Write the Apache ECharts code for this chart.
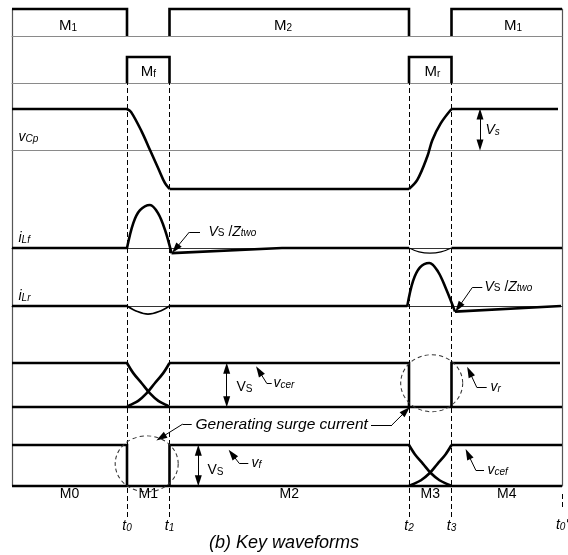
<!DOCTYPE html>
<html>
<head>
<meta charset="utf-8">
<script src="https://cdn.jsdelivr.net/npm/echarts@6/dist/echarts.min.js"></script>
<style>
html, body { margin: 0; padding: 0; background: #fff; }
#chart { width: 568px; height: 555px; }
</style>
</head>
<body>
<div id="chart"></div>
<script>
// switching instants t0..t3 and end of period t0'
const tEdges = [11.5, 15.75, 39.7, 43.95];
const tEnd = 55;
const [t0, t1, t2, t3] = tEdges;

// gate signals, 1 = on
const gateM12 = [[[0, 1], [t0, 1], [t0, 0]], [[t1, 0], [t1, 1], [t2, 1], [t2, 0]], [[t3, 0], [t3, 1], [tEnd, 1]]];
const gateMfr = [[[t0, 0], [t0, 1], [t1, 1], [t1, 0]], [[t2, 0], [t2, 1], [t3, 1], [t3, 0]]];

// vCp in units of Vs
const vCpFlat = [[[0, 1], [t0, 1]], [[t1, -0.95], [t2, -0.95]], [[t3, 1], [54.6, 1]]];
const vCpFall = [[t0, 1], [11.9, 0.93], [12.97, 0.45], [13.8, 0], [14.63, -0.45], [15.3, -0.81], [t1, -0.95]];
const vCpRise = [[t2, -0.95], [40.53, -0.73], [41.53, -0.16], [42.03, 0.24], [42.87, 0.65], [t3, 1]];

// iLf / iLr (peak = 1)
const iLfFlat = [[[0, 0], [t0, 0]], [[15.95, -0.12], [27, 0], [t2, 0]], [[t3, 0], [tEnd, 0]]];
const iLfPulse = [[t0, 0], [12.13, 0.58], [12.8, 0.88], [13.8, 1], [14.6, 0.81], [15.3, 0.42], [15.95, -0.12]];
const iLfDip = [[t2, 0], [40.7, -0.09], [41.8, -0.12], [42.9, -0.09], [t3, 0]];
const iLrFlat = [[[0, 0], [t0, 0]], [[t1, 0], [39.53, 0]], [[44.3, -0.13], [54.9, 0]]];
const iLrDip = [[t0, 0], [12.55, -0.13], [13.6, -0.19], [14.7, -0.13], [t1, 0]];
const iLrPulse = [[39.53, 0], [40.1, 0.58], [40.8, 0.9], [41.73, 1], [42.6, 0.8], [43.4, 0.4], [44.3, -0.13]];

// vcer / vr
const vcerOn = [[0, 1], [t0, 1]];
const vcerFall = [[t0, 1], [12.13, 0.77], [12.97, 0.54], [13.8, 0.31], [14.63, 0.14], [15.47, 0.04], [t1, 0]];
const vrRise = [[t0, 0], [11.78, 0.04], [12.62, 0.14], [13.45, 0.31], [14.28, 0.54], [15.12, 0.77], [t1, 1]];
const vrSteps = [[[t1, 1], [t2, 1], [t2, 0]], [[t3, 0], [t3, 1], [54.8, 1]]];

// vf / vcef
const vfSteps = [[[0, 1], [t0, 1], [t0, 0]], [[t1, 0], [t1, 1], [t2, 1]]];
const vfFall = [[t2, 1], [40.3, 0.77], [41.1, 0.54], [41.9, 0.31], [42.75, 0.14], [43.6, 0.04], [t3, 0]];
const vcefRise = [[t2, 0], [40.05, 0.04], [40.9, 0.14], [41.75, 0.31], [42.55, 0.54], [43.35, 0.77], [t3, 1]];
const vcefOn = [[t3, 1], [tEnd, 1]];
const zeroLine = [[0, 0], [tEnd, 0]];

const modeLabels = ['M0', 'M1', 'M2', 'M3', 'M4'];
const timeLabels = ['0', '1', '2', '3'];

const F = '"Liberation Sans", Arial, sans-serif';
const rich = {
    r: { fontFamily: F, fontSize: 15, color: '#000' },
    rs: { fontFamily: F, fontSize: 10, color: '#000', verticalAlign: 'bottom' },
    i: { fontFamily: F, fontSize: 14, fontStyle: 'italic', color: '#000' },
    is: { fontFamily: F, fontSize: 10, fontStyle: 'italic', color: '#000', verticalAlign: 'bottom' },
    u: { fontFamily: F, fontSize: 14, color: '#000' },
    us: { fontFamily: F, fontSize: 10, color: '#000', verticalAlign: 'bottom' },
    g: { fontFamily: F, fontSize: 15.5, fontStyle: 'italic', color: '#000' }
};

// rows: pixel of value 0, pixel of value 1, axis min, axis max
const rows = [
    [36, 9, -0.1, 1.1],
    [83, 57, -0.1, 1.1],
    [150, 109, -1, 1.1],
    [248, 205, -0.35, 1.1],
    [306, 263, -0.35, 1.1],
    [407, 363, -0.1, 1.1],
    [486, 445, -0.45, 2.05]
];

const grids = [{ left: 12, right: 6, top: 9, height: 477 }];
const xAxes = [];
const yAxes = [{ gridIndex: 0, type: 'value', min: 0, max: 1, axisLine: { show: true, lineStyle: { color: '#555', width: 1.2 } },
    axisTick: { show: false }, axisLabel: { show: false }, splitLine: { show: false } }];
rows.forEach(([y0, y1, mn, mx]) => {
    const unit = y0 - y1;
    grids.push({ left: 12, right: 6, top: y1 - (mx - 1) * unit, height: (mx - mn) * unit });
});
grids.push({ left: 12, right: 6, top: 83, height: 434 });
grids.push({ left: 12, right: 6, top: 491, height: 16 });

grids.forEach((g, i) => {
    const axisColor = i <= 3 ? '#8a8a8a' : '#333';
    xAxes.push({ gridIndex: i, type: 'value', min: 0, max: tEnd,
        axisLine: { show: i >= 1 && i <= 5, onZero: true, lineStyle: { color: axisColor, width: 1 } },
        axisTick: { show: false }, axisLabel: { show: false }, splitLine: { show: false } });
    if (i > 0) {
        const r = rows[i - 1];
        yAxes.push({ gridIndex: i, type: 'value', min: r ? r[2] : 0, max: r ? r[3] : 1, show: false, splitLine: { show: false } });
    }
});
yAxes.push({ gridIndex: 0, type: 'value', position: 'right', min: 0, max: 1, axisLine: { show: true, lineStyle: { color: '#555', width: 1.2 } },
    axisTick: { show: false }, axisLabel: { show: false }, splitLine: { show: false } });

const series = [];
function wave(g, data, width, smooth) {
    series.push({ type: 'line', xAxisIndex: g, yAxisIndex: g, data, symbol: 'none', clip: false, silent: true,
        smooth: smooth ? 0.35 : false, lineStyle: { color: '#000', width: width || 2.6, join: 'miter' } });
}
const waves = (g, list, width) => list.forEach(d => wave(g, d, width));

const lead = (a, b) => [{ coord: a, symbol: 'none' }, { coord: b, symbol: 'triangle' }];
const bar = (a, b) => [{ coord: a, symbol: 'none' }, { coord: b, symbol: 'none' }];
const span = (a, b) => [{ coord: a, symbol: 'triangle' }, { coord: b, symbol: 'triangle' }];
function note(coord, formatter, position) {
    return { coord, symbol: 'rect', symbolSize: 1, itemStyle: { color: 'rgba(0,0,0,0)' },
        label: { show: true, position: position || 'right', distance: 0, formatter, rich } };
}
function ring(coord, size) {
    return { coord, symbol: 'circle', symbolSize: size,
        itemStyle: { color: 'rgba(0,0,0,0)', borderColor: '#333', borderWidth: 1, borderType: [4, 3] }, label: { show: false } };
}
function notes(g, lines, points) {
    series.push({ type: 'line', xAxisIndex: g, yAxisIndex: g, data: [], silent: true, clip: false,
        markLine: { silent: true, animation: false, symbolSize: [7, 11], label: { show: false },
            lineStyle: { color: '#000', width: 1, type: 'solid' }, data: lines },
        markPoint: { silent: true, animation: false, data: points } });
}

// M1 / M2 gate row
waves(1, gateM12);
notes(1, [], [note([5.6, 0.37], '{r|M}{rs|1}', 'inside'), note([27.1, 0.37], '{r|M}{rs|2}', 'inside'), note([50.1, 0.37], '{r|M}{rs|1}', 'inside')]);
// Mf / Mr gate row
waves(2, gateMfr);
notes(2, [], [note([13.65, 0.42], '{r|M}{rs|f}', 'inside'), note([42.05, 0.42], '{r|M}{rs|r}', 'inside')]);
// vCp
waves(3, vCpFlat);
wave(3, vCpFall, 2.6, true);
wave(3, vCpRise, 2.6, true);
notes(3, [span([46.8, 0.88], [46.8, 0.12])], [note([0.6, 0.32], '{i|v}{is|Cp}'), note([47.3, 0.49], '{i|V}{is|s}')]);
// iLf
waves(4, iLfFlat);
wave(4, iLfPulse, 2.6, true);
wave(4, iLfDip, 1.3, true);
notes(4, [bar([18.8, 0.37], [17.73, 0.37]), lead([17.73, 0.37], [16.35, -0.02])],
    [note([0.6, 0.23], '{i|i}{is|Lf}'), note([19.6, 0.38], '{i|V}{us|S}{u| /}{i|Z}{is|two}')]);
// iLr
waves(5, iLrFlat);
wave(5, iLrDip, 1.6, true);
wave(5, iLrPulse, 2.6, true);
notes(5, [bar([47.03, 0.43], [46.03, 0.43]), lead([46.03, 0.43], [44.65, -0.03])],
    [note([0.6, 0.23], '{i|i}{is|Lr}'), note([47.2, 0.45], '{i|V}{us|S}{u| /}{i|Z}{is|two}')]);
// vcer / vr
wave(6, vcerOn);
wave(6, vcerFall, 2.6, true);
wave(6, vrRise, 2.6, true);
waves(6, vrSteps);
wave(6, zeroLine);
notes(6, [span([21.47, 0.88], [21.47, 0.12]),
    bar([25.97, 0.54], [25.47, 0.54]), lead([25.47, 0.54], [24.7, 0.82]),
    bar([47.47, 0.45], [46.47, 0.45]), lead([46.47, 0.45], [45.75, 0.8])],
    [note([22.4, 0.45], '{u|V}{us|S}'), note([26.1, 0.54], '{i|v}{is|cer}'), note([47.8, 0.45], '{i|v}{is|r}'),
        ring([41.97, 0.54], [62, 57])]);
// vf / vcef
waves(7, vfSteps);
wave(7, vfFall, 2.6, true);
wave(7, vcefRise, 2.6, true);
wave(7, vcefOn);
wave(7, zeroLine);
const bounds = [0, t0, t1, t2, t3, tEnd];
notes(7, [span([18.63, 0.87], [18.63, 0.13]),
    bar([23.63, 0.55], [22.73, 0.55]), lead([22.73, 0.55], [22.0, 0.78]),
    bar([47.2, 0.39], [46.37, 0.39]), lead([46.37, 0.39], [45.6, 0.78])],
    [note([19.5, 0.39], '{u|V}{us|S}'), note([23.9, 0.55], '{i|v}{is|f}'), note([47.5, 0.39], '{i|v}{is|cef}'),
        ring([13.47, 0.54], [63, 56])]
        .concat(modeLabels.map((m, k) => note([(bounds[k] + bounds[k + 1]) / 2, -0.2], '{u|' + m + '}', 'inside'))));
// surge current note, same grid
notes(7, [bar([17.97, 1.51], [17.07, 1.51]), lead([17.07, 1.51], [14.9, 1.18]),
    bar([35.9, 1.49], [38.0, 1.49]), lead([38.0, 1.49], [39.4, 1.83])],
    [note([18.3, 1.5], '{g|Generating surge current}')]);

// dashed time guides
series.push({ type: 'line', xAxisIndex: 8, yAxisIndex: 8, data: [], silent: true,
    markLine: { silent: true, animation: false, symbol: 'none',
        lineStyle: { color: '#000', width: 1, type: [5, 3] },
        label: { show: true, position: 'start', distance: 2, rich },
        data: tEdges.map((t, k) => ({ xAxis: t, label: { formatter: '{i|t}{is|' + timeLabels[k] + '}' } })) } });
series.push({ type: 'line', xAxisIndex: 9, yAxisIndex: 9, data: [], silent: true,
    markLine: { silent: true, animation: false, symbol: 'none',
        lineStyle: { color: '#000', width: 1, type: [5, 3] },
        label: { show: true, position: 'start', distance: 11, rich, formatter: '{i|t}{is|0}{i|\'}' },
        data: [{ xAxis: tEnd }] } });

const chart = echarts.init(document.getElementById('chart'));
chart.setOption({
    animation: false,
    backgroundColor: '#fff',
    title: { text: '(b) Key waveforms', left: 'center', top: 529,
        textStyle: { fontFamily: F, fontSize: 18, fontStyle: 'italic', fontWeight: 'normal', color: '#000' } },
    grid: grids,
    xAxis: xAxes,
    yAxis: yAxes,
    series
});
</script>
</body>
</html>
